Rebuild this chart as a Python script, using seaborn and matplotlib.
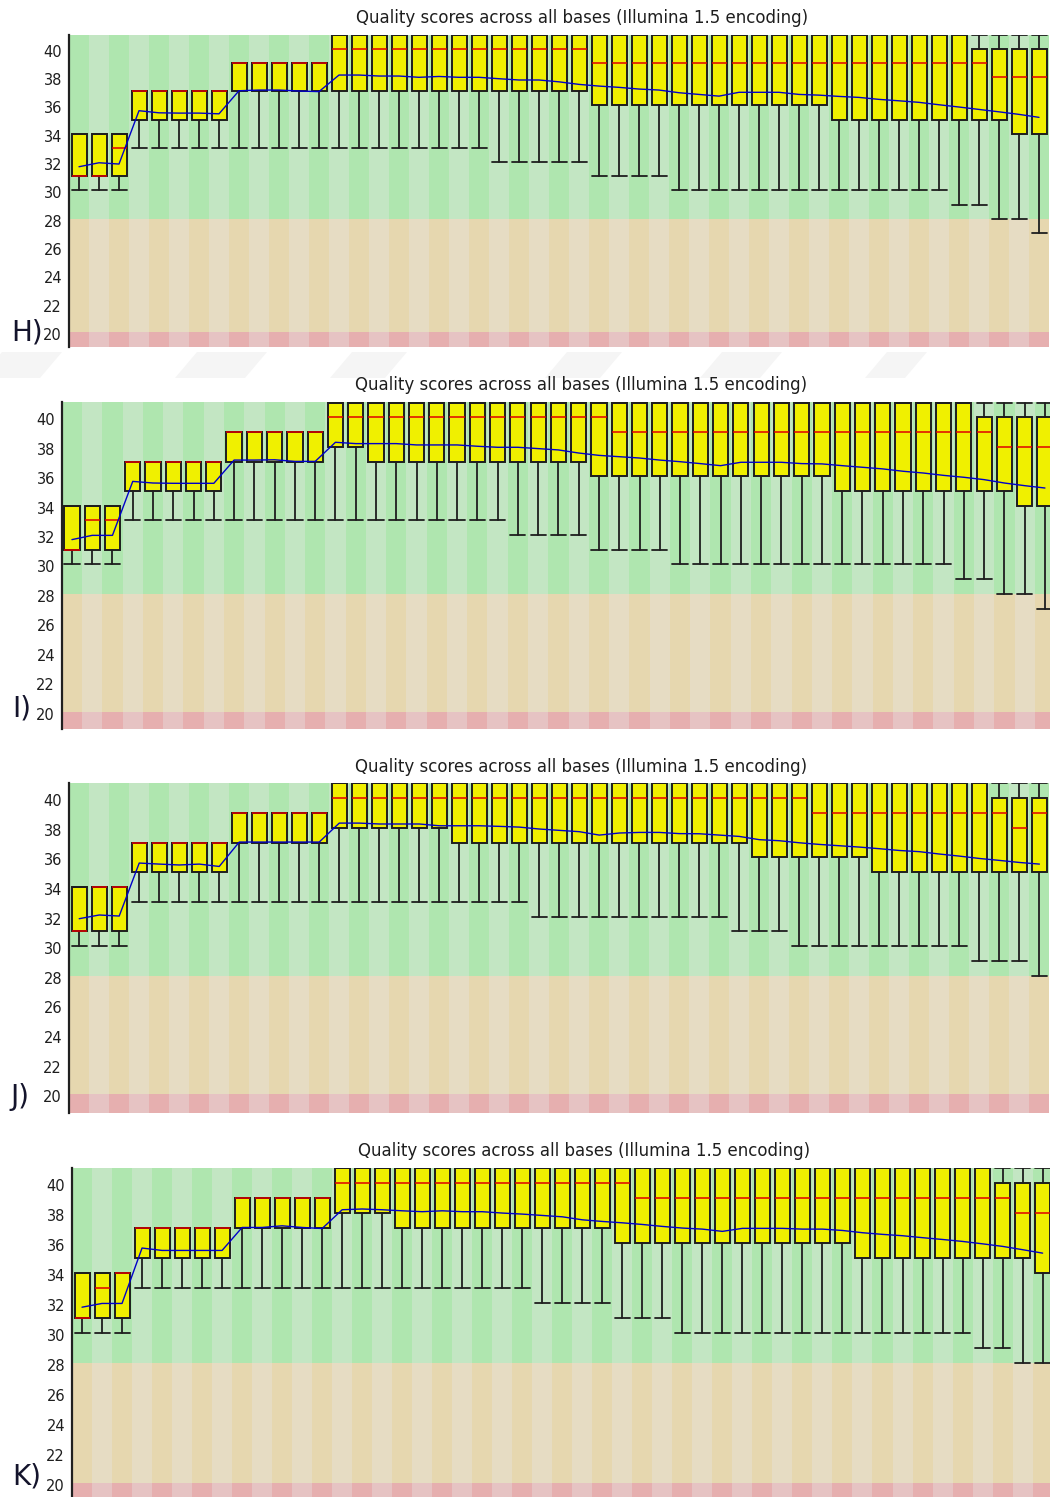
import matplotlib
matplotlib.use("Agg")
import matplotlib.pyplot as plt
from matplotlib.patches import Rectangle, Polygon
from matplotlib.transforms import ScaledTranslation
import numpy as np
import pandas as pd
import seaborn as sns

# ---------------------------------------------------------------- text
TITLE = "Quality scores across all bases (Illumina 1.5 encoding)"
PANEL_LABELS = ["H)", "I)", "J)", "K)"]
Y_TICKS = [20, 22, 24, 26, 28, 30, 32, 34, 36, 38, 40]

# ---------------------------------------------------------------- data
# per-position quality summaries: 10th pct, Q1, median, Q3, 90th pct, mean
h_low = [30, 30, 30, 33, 33, 33, 33, 33, 33, 33, 33, 33, 33, 33, 33, 33, 33, 33, 33, 33, 33, 32, 32, 32, 32,
         32, 31, 31, 31, 31, 30, 30, 30, 30, 30, 30, 30, 30, 30, 30, 30, 30, 30, 30, 29, 29, 28, 28, 27]
h_q1 = [31, 31, 31, 35, 35, 35, 35, 35, 37, 37, 37, 37, 37, 37, 37, 37, 37, 37, 37, 37, 37, 37, 37, 37, 37,
        37, 36, 36, 36, 36, 36, 36, 36, 36, 36, 36, 36, 36, 35, 35, 35, 35, 35, 35, 35, 35, 35, 34, 34]
h_med = [31, 31, 33, 37, 37, 37, 37, 37, 39, 39, 39, 39, 39, 40, 40, 40, 40, 40, 40, 40, 40, 40, 40, 40, 40,
         40, 39, 39, 39, 39, 39, 39, 39, 39, 39, 39, 39, 39, 39, 39, 39, 39, 39, 39, 39, 39, 38, 38, 38]
h_q3 = [34, 34, 34, 37, 37, 37, 37, 37, 39, 39, 39, 39, 39, 41, 41, 41, 41, 41, 41, 41, 41, 41, 41, 41, 41,
        41, 41, 41, 41, 41, 41, 41, 41, 41, 41, 41, 41, 41, 41, 41, 41, 41, 41, 41, 41, 40, 40, 40, 40]
h_high = [34, 34, 34, 37, 37, 37, 37, 37, 39, 39, 39, 39, 39, 41, 41, 41, 41, 41, 41, 41, 41, 41, 41, 41, 41,
          41, 41, 41, 41, 41, 41, 41, 41, 41, 41, 41, 41, 41, 41, 41, 41, 41, 41, 41, 41, 41, 41, 41, 41]
h_mean = [31.67, 31.95, 31.86, 35.63, 35.48, 35.46, 35.46, 35.41, 37.04, 37.09, 37.09, 37.02, 36.98,
          38.15, 38.15, 38.08, 38.08, 37.99, 38.05, 37.99, 37.99, 37.89, 37.80, 37.80, 37.67, 37.49,
          37.37, 37.28, 37.16, 37.09, 36.90, 36.78, 36.66, 36.93, 36.93, 36.93, 36.78, 36.73, 36.64,
          36.57, 36.43, 36.33, 36.22, 36.05, 35.89, 35.72, 35.55, 35.37, 35.16]

i_low = [30, 30, 30, 33, 33, 33, 33, 33, 33, 33, 33, 33, 33, 33, 33, 33, 33, 33, 33, 33, 33, 33, 32, 32, 32,
         32, 31, 31, 31, 31, 30, 30, 30, 30, 30, 30, 30, 30, 30, 30, 30, 30, 30, 30, 29, 29, 28, 28, 27]
i_q1 = [31, 31, 31, 35, 35, 35, 35, 35, 37, 37, 37, 37, 37, 38, 38, 37, 37, 37, 37, 37, 37, 37, 37, 37, 37,
        37, 36, 36, 36, 36, 36, 36, 36, 36, 36, 36, 36, 36, 35, 35, 35, 35, 35, 35, 35, 35, 35, 34, 34]
i_med = [31, 33, 33, 37, 37, 37, 37, 37, 39, 39, 39, 39, 39, 40, 40, 40, 40, 40, 40, 40, 40, 40, 40, 40, 40,
         40, 40, 39, 39, 39, 39, 39, 39, 39, 39, 39, 39, 39, 39, 39, 39, 39, 39, 39, 39, 39, 38, 38, 38]
i_q3 = [34, 34, 34, 37, 37, 37, 37, 37, 39, 39, 39, 39, 39, 41, 41, 41, 41, 41, 41, 41, 41, 41, 41, 41, 41,
        41, 41, 41, 41, 41, 41, 41, 41, 41, 41, 41, 41, 41, 41, 41, 41, 41, 41, 41, 41, 40, 40, 40, 40]
i_high = [34, 34, 34, 37, 37, 37, 37, 37, 39, 39, 39, 39, 39, 41, 41, 41, 41, 41, 41, 41, 41, 41, 41, 41, 41,
          41, 41, 41, 41, 41, 41, 41, 41, 41, 41, 41, 41, 41, 41, 41, 41, 41, 41, 41, 41, 41, 41, 41, 41]
i_mean = [31.69, 31.98, 31.98, 35.65, 35.54, 35.52, 35.52, 35.52, 37.10, 37.10, 37.12, 37.01, 37.01,
          38.31, 38.22, 38.22, 38.22, 38.13, 38.13, 38.13, 38.04, 37.97, 37.97, 37.88, 37.79, 37.58,
          37.42, 37.33, 37.24, 37.10, 36.99, 36.86, 36.72, 36.95, 36.95, 36.95, 36.86, 36.84, 36.72,
          36.61, 36.50, 36.34, 36.22, 36.06, 35.93, 35.77, 35.54, 35.36, 35.20]

j_low = [30, 30, 30, 33, 33, 33, 33, 33, 33, 33, 33, 33, 33, 33, 33, 33, 33, 33, 33, 33, 33, 33, 33, 32, 32,
         32, 32, 32, 32, 32, 32, 32, 32, 31, 31, 31, 30, 30, 30, 30, 30, 30, 30, 30, 30, 29, 29, 29, 28]
j_q1 = [31, 31, 31, 35, 35, 35, 35, 35, 37, 37, 37, 37, 37, 38, 38, 38, 38, 38, 38, 37, 37, 37, 37, 37, 37,
        37, 37, 37, 37, 37, 37, 37, 37, 37, 36, 36, 36, 36, 36, 36, 35, 35, 35, 35, 35, 35, 35, 35, 35]
j_med = [31, 34, 34, 37, 37, 37, 37, 37, 39, 39, 39, 39, 39, 40, 40, 40, 40, 40, 40, 40, 40, 40, 40, 40, 40,
         40, 40, 40, 40, 40, 40, 40, 40, 40, 40, 40, 40, 39, 39, 39, 39, 39, 39, 39, 39, 39, 39, 38, 39]
j_q3 = [34, 34, 34, 37, 37, 37, 37, 37, 39, 39, 39, 39, 39, 41, 41, 41, 41, 41, 41, 41, 41, 41, 41, 41, 41,
        41, 41, 41, 41, 41, 41, 41, 41, 41, 41, 41, 41, 41, 41, 41, 41, 41, 41, 41, 41, 41, 40, 40, 40]
j_high = [34, 34, 34, 37, 37, 37, 37, 37, 39, 39, 39, 39, 39, 41, 41, 41, 41, 41, 41, 41, 41, 41, 41, 41, 41,
          41, 41, 41, 41, 41, 41, 41, 41, 41, 41, 41, 41, 41, 41, 41, 41, 41, 41, 41, 41, 41, 41, 41, 41]
j_mean = [31.86, 32.11, 32.04, 35.62, 35.55, 35.49, 35.55, 35.39, 37.04, 37.04, 37.04, 37.04, 37.04,
          38.32, 38.32, 38.26, 38.26, 38.26, 38.14, 38.14, 38.14, 38.10, 38.05, 37.92, 37.83, 37.74,
          37.51, 37.65, 37.69, 37.69, 37.61, 37.60, 37.51, 37.42, 37.20, 37.13, 36.99, 36.88, 36.79,
          36.70, 36.59, 36.47, 36.39, 36.23, 36.09, 35.93, 35.80, 35.66, 35.55]

k_low = [30, 30, 30, 33, 33, 33, 33, 33, 33, 33, 33, 33, 33, 33, 33, 33, 33, 33, 33, 33, 33, 33, 33, 32, 32,
         32, 32, 31, 31, 31, 30, 30, 30, 30, 30, 30, 30, 30, 30, 30, 30, 30, 30, 30, 30, 29, 29, 28, 28]
k_q1 = [31, 31, 31, 35, 35, 35, 35, 35, 37, 37, 37, 37, 37, 38, 38, 38, 37, 37, 37, 37, 37, 37, 37, 37, 37,
        37, 37, 36, 36, 36, 36, 36, 36, 36, 36, 36, 36, 36, 36, 35, 35, 35, 35, 35, 35, 35, 35, 35, 34]
k_med = [31, 33, 34, 37, 37, 37, 37, 37, 39, 39, 39, 39, 39, 40, 40, 40, 40, 40, 40, 40, 40, 40, 40, 40, 40,
         40, 40, 40, 39, 39, 39, 39, 39, 39, 39, 39, 39, 39, 39, 39, 39, 39, 39, 39, 39, 39, 39, 38, 38]
k_q3 = [34, 34, 34, 37, 37, 37, 37, 37, 39, 39, 39, 39, 39, 41, 41, 41, 41, 41, 41, 41, 41, 41, 41, 41, 41,
        41, 41, 41, 41, 41, 41, 41, 41, 41, 41, 41, 41, 41, 41, 41, 41, 41, 41, 41, 41, 41, 40, 40, 40]
k_high = [34, 34, 34, 37, 37, 37, 37, 37, 39, 39, 39, 39, 39, 41, 41, 41, 41, 41, 41, 41, 41, 41, 41, 41, 41,
          41, 41, 41, 41, 41, 41, 41, 41, 41, 41, 41, 41, 41, 41, 41, 41, 41, 41, 41, 41, 41, 41, 41, 41]
k_mean = [31.73, 31.98, 31.98, 35.67, 35.51, 35.51, 35.51, 35.51, 37.04, 37.04, 37.15, 37.04, 36.97,
          38.22, 38.27, 38.22, 38.15, 38.09, 38.15, 38.09, 38.09, 38.00, 37.93, 37.84, 37.75, 37.55,
          37.44, 37.35, 37.24, 37.11, 37.00, 36.93, 36.78, 36.98, 36.98, 36.98, 36.93, 36.93, 36.84,
          36.69, 36.58, 36.49, 36.36, 36.24, 36.11, 35.95, 35.78, 35.56, 35.33]

# ---------------------------------------------------------------- style
sns.set_style("white")
plt.rcParams["font.family"] = ["DejaVu Sans"]

BOX_FACE = "#f0f000"
EDGE = "#1e1e1e"
MEDIAN_RED = "#e00000"
MEAN_BLUE = "#0000c8"
BANDS = {  # (lower, upper): (even column colour, odd column colour)
    "good": ((28, 45), ("#afe6af", "#c3e6c3")),
    "warn": ((20, 28), ("#e6d7af", "#e6dcc3")),
    "bad": ((0, 20), ("#e6afaf", "#e6c3c3")),
}

W_PX, H_PX = 1050, 1497
fig = plt.figure(figsize=(W_PX / 100, H_PX / 100), dpi=100)
fig.patch.set_facecolor("white")


def frac_rect(left, top, right, bottom):
    return [left / W_PX, 1 - bottom / H_PX, (right - left) / W_PX, (bottom - top) / H_PX]


# faint slanted background shapes in the gap under the first panel
for x0, x1 in [(-20, 40), (175, 245), (330, 385), (545, 600), (700, 760), (865, 905)]:
    pts = [(x0 + 22, 352), (x1 + 22, 352), (x1, 378), (x0, 378)]
    fig.patches.append(Polygon([(px / W_PX, 1 - py / H_PX) for px, py in pts], closed=True,
                               transform=fig.transFigure, facecolor="#f5f5f5",
                               edgecolor="none", zorder=0))

panels = [
    dict(stats=(h_low, h_q1, h_med, h_q3, h_high, h_mean), rect=(69, 35, 1050, 347),
         ylim=(18.93, 40.98), xlim=(-0.5, 48.55), title=(582, 18), label=(11, 333)),
    dict(stats=(i_low, i_q1, i_med, i_q3, i_high, i_mean), rect=(62, 402, 1050, 729),
         ylim=(18.81, 41.05), xlim=(-0.49, 48.25), title=(581, 385), label=(12, 708)),
    dict(stats=(j_low, j_q1, j_med, j_q3, j_high, j_mean), rect=(69, 783, 1050, 1113),
         ylim=(18.73, 41.03), xlim=(-0.51, 48.53), title=(581, 767), label=(10, 1097)),
    dict(stats=(k_low, k_q1, k_med, k_q3, k_high, k_mean), rect=(72, 1168, 1050, 1497),
         ylim=(19.09, 41.0), xlim=(-0.5, 48.37), title=(584, 1151), label=(12, 1476)),
]

for panel, tag in zip(panels, PANEL_LABELS):
    low, q1, med, q3, high, mean = panel["stats"]
    df = pd.DataFrame(dict(pos=np.arange(len(med)), low=low, q1=q1, med=med,
                           q3=q3, high=high, mean=mean))
    ax = fig.add_axes(frac_rect(*panel["rect"]))
    ax.set_xlim(*panel["xlim"])
    ax.set_ylim(*panel["ylim"])

    # striped quality bands behind the boxes
    for p in df["pos"]:
        for (lo, hi), colours in BANDS.values():
            ax.add_patch(Rectangle((p - 0.5, lo), 1, hi - lo, facecolor=colours[p % 2],
                                   edgecolor="none", zorder=0))

    stats = [dict(whislo=r.low, q1=r.q1, med=r.med, q3=r.q3, whishi=r.high, label="")
             for r in df.itertuples()]
    ax.bxp(stats, positions=df["pos"].tolist(), widths=0.75, capwidths=0.75,
           patch_artist=True, showfliers=False, manage_ticks=False,
           boxprops=dict(facecolor=BOX_FACE, edgecolor=EDGE, linewidth=1.4),
           whiskerprops=dict(color=EDGE, linewidth=1.3),
           capprops=dict(color=EDGE, linewidth=1.3),
           medianprops=dict(color=MEDIAN_RED, linewidth=1.1))

    sns.lineplot(data=df, x="pos", y="mean", ax=ax, color=MEAN_BLUE, linewidth=1.0,
                 legend=False, zorder=6)

    ax.set_xlabel("")
    ax.set_ylabel("")
    ax.set_xticks([])
    ax.set_yticks(Y_TICKS)
    ax.set_yticklabels([str(t) for t in Y_TICKS])
    ax.tick_params(axis="y", length=0, pad=5, labelsize=10.5, labelcolor="#1e1e1e")
    for lbl in ax.get_yticklabels():
        lbl.set_transform(lbl.get_transform() + ScaledTranslation(0, -2 / 100, fig.dpi_scale_trans))
    for side in ("top", "right", "bottom"):
        ax.spines[side].set_visible(False)
    ax.spines["left"].set_color("#202020")
    ax.spines["left"].set_linewidth(1.6)
    ax.spines["left"].set_zorder(7)

    tx, ty = panel["title"]
    fig.text(tx / W_PX, 1 - ty / H_PX, TITLE, ha="center", va="center",
             fontsize=12, color="#1e1e1e")
    lx, ly = panel["label"]
    fig.text(lx / W_PX, 1 - ly / H_PX, tag, ha="left", va="center",
             fontsize=20, color="#14142c")

fig.savefig("out.png", dpi=100, facecolor="white")
